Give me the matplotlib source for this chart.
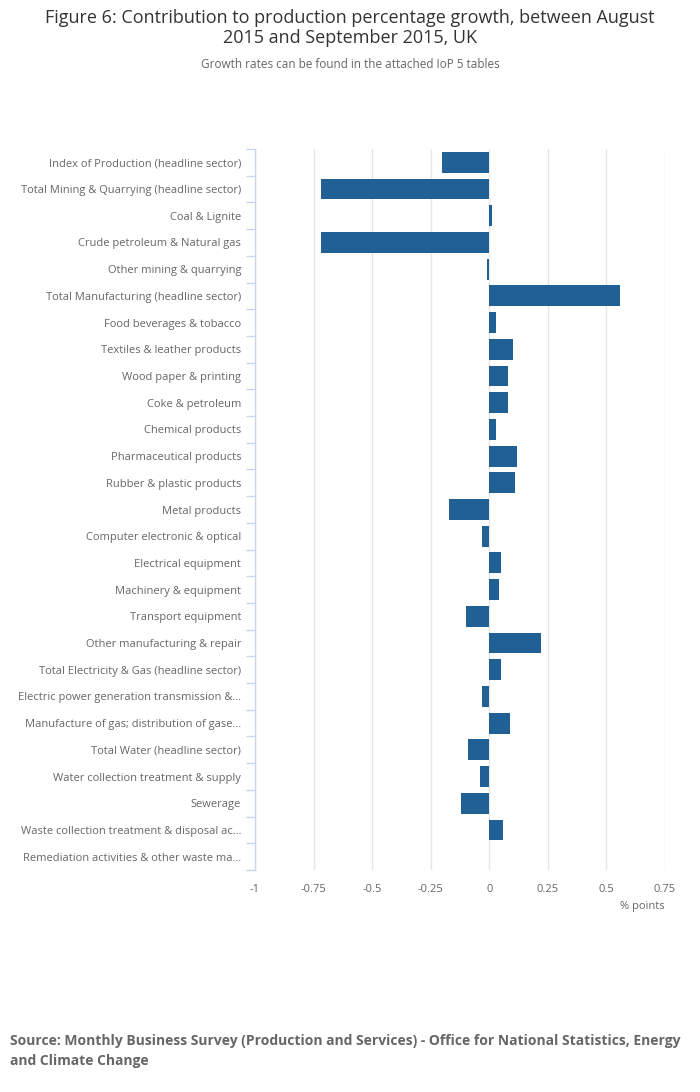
import numpy as np
import matplotlib
matplotlib.use('Agg')
import matplotlib.pyplot as plt
from matplotlib.ticker import FixedLocator

plt.rcParams['font.family'] = ['Open Sans', 'DejaVu Sans']

categories = [
    'Index of Production (headline sector)',
    'Total Mining & Quarrying (headline sector)',
    'Coal & Lignite',
    'Crude petroleum & Natural gas',
    'Other mining & quarrying',
    'Total Manufacturing (headline sector)',
    'Food beverages & tobacco',
    'Textiles & leather products',
    'Wood paper & printing',
    'Coke & petroleum',
    'Chemical products',
    'Pharmaceutical products',
    'Rubber & plastic products',
    'Metal products',
    'Computer electronic & optical',
    'Electrical equipment',
    'Machinery & equipment',
    'Transport equipment',
    'Other manufacturing & repair',
    'Total Electricity & Gas (headline sector)',
    'Electric power generation transmission &\u2026',
    'Manufacture of gas; distribution of gase\u2026',
    'Total Water (headline sector)',
    'Water collection treatment & supply',
    'Sewerage',
    'Waste collection treatment & disposal ac\u2026',
    'Remediation activities & other waste ma\u2026',
]

contribution = [
    -0.20, -0.72, 0.01, -0.72, -0.01, 0.56, 0.03, 0.10, 0.08, 0.08,
    0.03, 0.12, 0.11, -0.17, -0.03, 0.05, 0.04, -0.10, 0.22, 0.05,
    -0.03, 0.09, -0.09, -0.04, -0.12, 0.06, 0.0,
]

x_ticks = [-1, -0.75, -0.5, -0.25, 0, 0.25, 0.5, 0.75]
x_labels = ['-1', '-0.75', '-0.5', '-0.25', '0', '0.25', '0.5', '0.75']

bar_col = '#206095'
txt_col = '#666666'
axis_col = '#ccd6eb'

fig = plt.figure(figsize=(7, 10.92), dpi=100)
ax = fig.add_axes([255/700, 1 - 870/1092, (665 - 255)/700, (870 - 149)/1092])

ypos = np.arange(len(categories))
ax.barh(ypos, contribution, height=0.78, color=bar_col, zorder=3)

ax.set_xlim(-1, 0.75)
ax.set_ylim(len(categories) - 0.5, -0.5)

ax.set_xticks(x_ticks)
ax.set_xticklabels(x_labels)
ax.set_yticks(ypos)
ax.set_yticklabels(categories)
ax.yaxis.set_minor_locator(FixedLocator(np.arange(len(categories) + 1) - 0.5))

ax.tick_params(axis='y', which='major', length=0, pad=10, labelsize=8, labelcolor=txt_col)
ax.tick_params(axis='y', which='minor', length=6.5, width=1, color=axis_col)
ax.tick_params(axis='x', length=0, pad=10, labelsize=8, labelcolor=txt_col)

ax.grid(axis='x', color='#e6e6e6', linewidth=1, zorder=0)
for s in ['top', 'right', 'bottom']:
    ax.spines[s].set_visible(False)
ax.spines['left'].set_color(axis_col)
ax.spines['left'].set_linewidth(1)
ax.spines['left'].set_zorder(4)

fig.text(665/700, 1 - 907/1092, '% points', ha='right', va='center', fontsize=8, color=txt_col)

fig.text(0.5, 1 - 28/1092,
         'Figure 6: Contribution to production percentage growth, between August\n2015 and September 2015, UK',
         ha='center', va='center', fontsize=13, color='#333333', linespacing=1.2)
fig.text(0.5, 1 - 64/1092, 'Growth rates can be found in the attached IoP 5 tables',
         ha='center', va='center', fontsize=8.5, color=txt_col)

fig.text(10/700, 1 - 1051/1092,
         'Source: Monthly Business Survey (Production and Services) - Office for National Statistics, Energy\nand Climate Change',
         ha='left', va='center', fontsize=10, fontweight='bold', color=txt_col, linespacing=1.6)

fig.savefig('out.png', dpi=100)
